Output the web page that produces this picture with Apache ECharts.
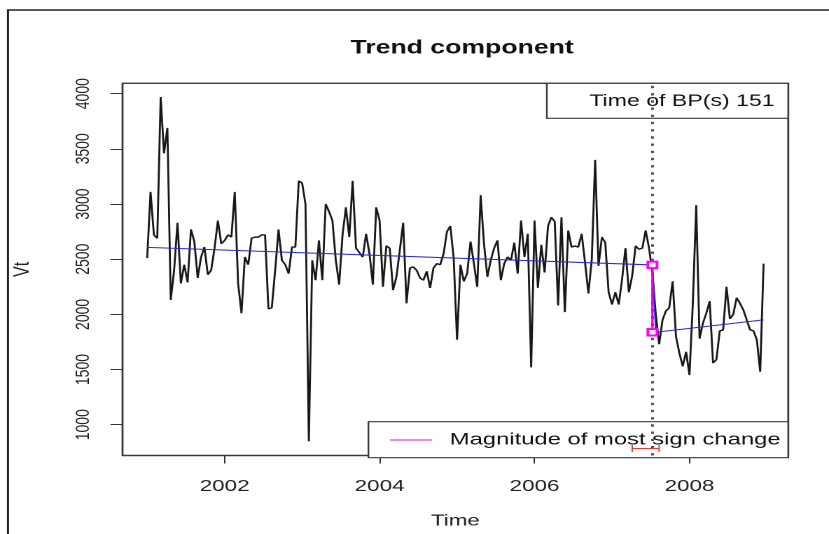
<!DOCTYPE html>
<html>
<head>
<meta charset="utf-8">
<title>Trend component</title>
<script src="https://cdn.jsdelivr.net/npm/echarts@6/dist/echarts.min.js"></script>
<style>
  html, body { margin: 0; padding: 0; background: #fff; overflow: hidden; }
  /* the plot is laid out at 592px and widened to the 829px page */
  #chart { width: 592px; height: 534px; transform: scaleX(1.4003); transform-origin: 0 0; }
</style>
</head>
<body>
<div id="chart"></div>
<script>
// 16-day series, 23 observations per year, starting 2001
const startYear = 2001;
const perYear = 23;

// Vt observations
const vt = [
  2510, 3110, 2720, 2690, 3970, 3460, 3690, 2130, 2400, 2830,
  2280, 2450, 2290, 2770, 2660, 2330, 2520, 2610, 2360, 2400,
  2600, 2850, 2640, 2670, 2720, 2700, 3110, 2280, 2010, 2520,
  2450, 2690, 2700, 2700, 2720, 2720, 2050, 2060, 2400, 2770,
  2490, 2450, 2370, 2610, 2610, 3210, 3190, 3000, 850, 2490,
  2310, 2670, 2310, 3000, 2930, 2850, 2490, 2270, 2720, 2970,
  2700, 3210, 2600, 2560, 2520, 2730, 2550, 2270, 2970, 2850,
  2250, 2620, 2600, 2220, 2340, 2580, 2830, 2100, 2420, 2430,
  2400, 2330, 2310, 2390, 2240, 2420, 2460, 2450, 2550, 2750,
  2800, 2510, 1770, 2450, 2300, 2370, 2660, 2460, 2250, 3080,
  2640, 2340, 2490, 2600, 2670, 2310, 2460, 2520, 2490, 2650,
  2370, 2850, 2520, 2730, 1520, 2850, 2240, 2630, 2380, 2800,
  2880, 2840, 2080, 2880, 2020, 2760, 2610, 2620, 2610, 2730,
  2470, 2190, 2500, 3400, 2440, 2700, 2650, 2200, 2090, 2200,
  2090, 2320, 2600, 2200, 2350, 2620, 2590, 2600, 2760, 2600,
  2380, 2000, 1730, 1950, 2030, 2060, 2300, 1800, 1650, 1530,
  1660, 1450, 2100, 2990, 1780, 1920, 2010, 2120, 1560, 1590,
  1850, 1860, 2250, 1960, 2000, 2150, 2100, 2040, 1950, 1860,
  1850, 1770, 1480, 2460
];

// piecewise linear trend: observation index and fitted value
const trendIdx = [0, 150, 151, 183];
const trendVals = [2607, 2448, 1838, 1950];

// breakpoint (0-based index; reported 1-based) and its confidence interval
const bpIdx = 150;
const bpLabel = 151;
const ciIdx = [144, 152];
const ciLevel = 784;

const xTicks = [2002, 2004, 2006, 2008];
const yTicks = [1000, 1500, 2000, 2500, 3000, 3500, 4000];

const timeOf = i => startYear + i / perYear;

const FONT = '"Liberation Sans", Arial, Helvetica, sans-serif';
const INK = '#222';

const seriesData = vt.map((v, i) => [timeOf(i), v]);
const trendData = trendIdx.map((i, k) => [timeOf(i), trendVals[k]]);
const bpTime = timeOf(bpIdx);
const magData = [[bpTime, trendVals[1]], [bpTime, trendVals[2]]];
const ciData = ciIdx.map(i => [timeOf(i), ciLevel]);

const chart = echarts.init(document.getElementById('chart'), null, { renderer: 'canvas', devicePixelRatio: 2 });

chart.setOption({
  animation: false,
  backgroundColor: '#fff',
  title: {
    text: 'Trend component',
    left: 325, top: 34,
    textAlign: 'center',
    textStyle: { fontFamily: FONT, fontSize: 19, fontWeight: 'bold', color: '#111' }
  },
  grid: {
    left: 87.1, right: 29.1, top: 83.3, bottom: 76.3,
    show: true, borderColor: '#3a3a3a', borderWidth: 1.4, backgroundColor: 'transparent'
  },
  xAxis: {
    type: 'value',
    min: 2000.682, max: 2009.275,
    name: 'Time', nameLocation: 'middle', nameGap: 57.5,
    nameTextStyle: { fontFamily: FONT, fontSize: 16, color: INK },
    axisLine: { show: false },
    splitLine: { show: false },
    axisTick: { show: true, length: 8, customValues: xTicks, lineStyle: { color: '#333', width: 1 } },
    axisLabel: { customValues: xTicks, margin: 23, fontFamily: FONT, fontSize: 16, color: INK,
                 formatter: v => String(Math.round(v)) }
  },
  yAxis: {
    type: 'value',
    min: 721, max: 4094,
    name: 'Vt', nameLocation: 'middle', nameGap: 63.5, nameRotate: 90,
    nameTextStyle: { fontFamily: FONT, fontSize: 16, color: INK },
    axisLine: { show: false },
    splitLine: { show: false },
    axisTick: { show: true, length: 8.6, customValues: yTicks, lineStyle: { color: '#333', width: 1 } },
    axisLabel: { customValues: yTicks, rotate: 90, margin: 21, fontFamily: FONT, fontSize: 14, color: INK,
                 formatter: v => String(Math.round(v)) }
  },
  graphic: [
    // outer frame
    { type: 'rect', z: 0, shape: { x: 5.7, y: 10, width: 800, height: 800 },
      style: { fill: null, stroke: '#222', lineWidth: 1.5 }, silent: true },
    // breakpoint legend
    { type: 'rect', z: 1, shape: { x: 390.5, y: 83.3, width: 172.4, height: 35 },
      style: { fill: '#fff', stroke: '#3a3a3a', lineWidth: 1.2 }, silent: true },
    { type: 'text', z: 1, x: 487, y: 101.5,
      style: { text: 'Time of BP(s) ' + bpLabel, fontFamily: FONT, fontSize: 16.5, fill: '#111',
               align: 'center', verticalAlign: 'middle' }, silent: true },
    // magnitude legend
    { type: 'rect', z: 1, shape: { x: 263.1, y: 421.7, width: 299.8, height: 36 },
      style: { fill: '#fff', stroke: '#3a3a3a', lineWidth: 1.2 }, silent: true },
    { type: 'line', z: 1, shape: { x1: 278.6, y1: 440, x2: 308.6, y2: 440 },
      style: { stroke: '#e040e0', lineWidth: 1.2 }, silent: true },
    { type: 'text', z: 1, x: 439.3, y: 440,
      style: { text: 'Magnitude of most sign change', fontFamily: FONT, fontSize: 17, fill: '#111',
               align: 'center', verticalAlign: 'middle' }, silent: true }
  ],
  series: [
    {
      name: 'Vt', type: 'line', z: 3,
      data: seriesData, showSymbol: false, silent: true,
      lineStyle: { color: '#181818', width: 1.4 }
    },
    {
      name: 'Trend', type: 'line', z: 4,
      data: trendData, showSymbol: false, silent: true,
      lineStyle: { color: '#2a2ad2', width: 1.1 }
    },
    {
      name: 'Magnitude', type: 'line', z: 5,
      data: magData, silent: true,
      showSymbol: true, symbol: 'emptyRect', symbolSize: 6.5,
      itemStyle: { color: '#ff00ff', borderColor: '#ff00ff', borderWidth: 1.1 },
      lineStyle: { color: '#e000e0', width: 1.6 }
    },
    {
      name: 'Breakpoint CI', type: 'line', z: 6,
      data: ciData, silent: true,
      showSymbol: true, symbol: 'rect', symbolSize: [1, 7],
      itemStyle: { color: '#e23a3a' },
      lineStyle: { color: '#e23a3a', width: 1 },
      markLine: {
        silent: true, symbol: 'none', animation: false,
        label: { show: false },
        lineStyle: { color: '#555', width: 2, type: [2.4, 4.8], cap: 'butt' },
        data: [{ xAxis: bpTime }]
      }
    }
  ]
});
</script>
</body>
</html>
